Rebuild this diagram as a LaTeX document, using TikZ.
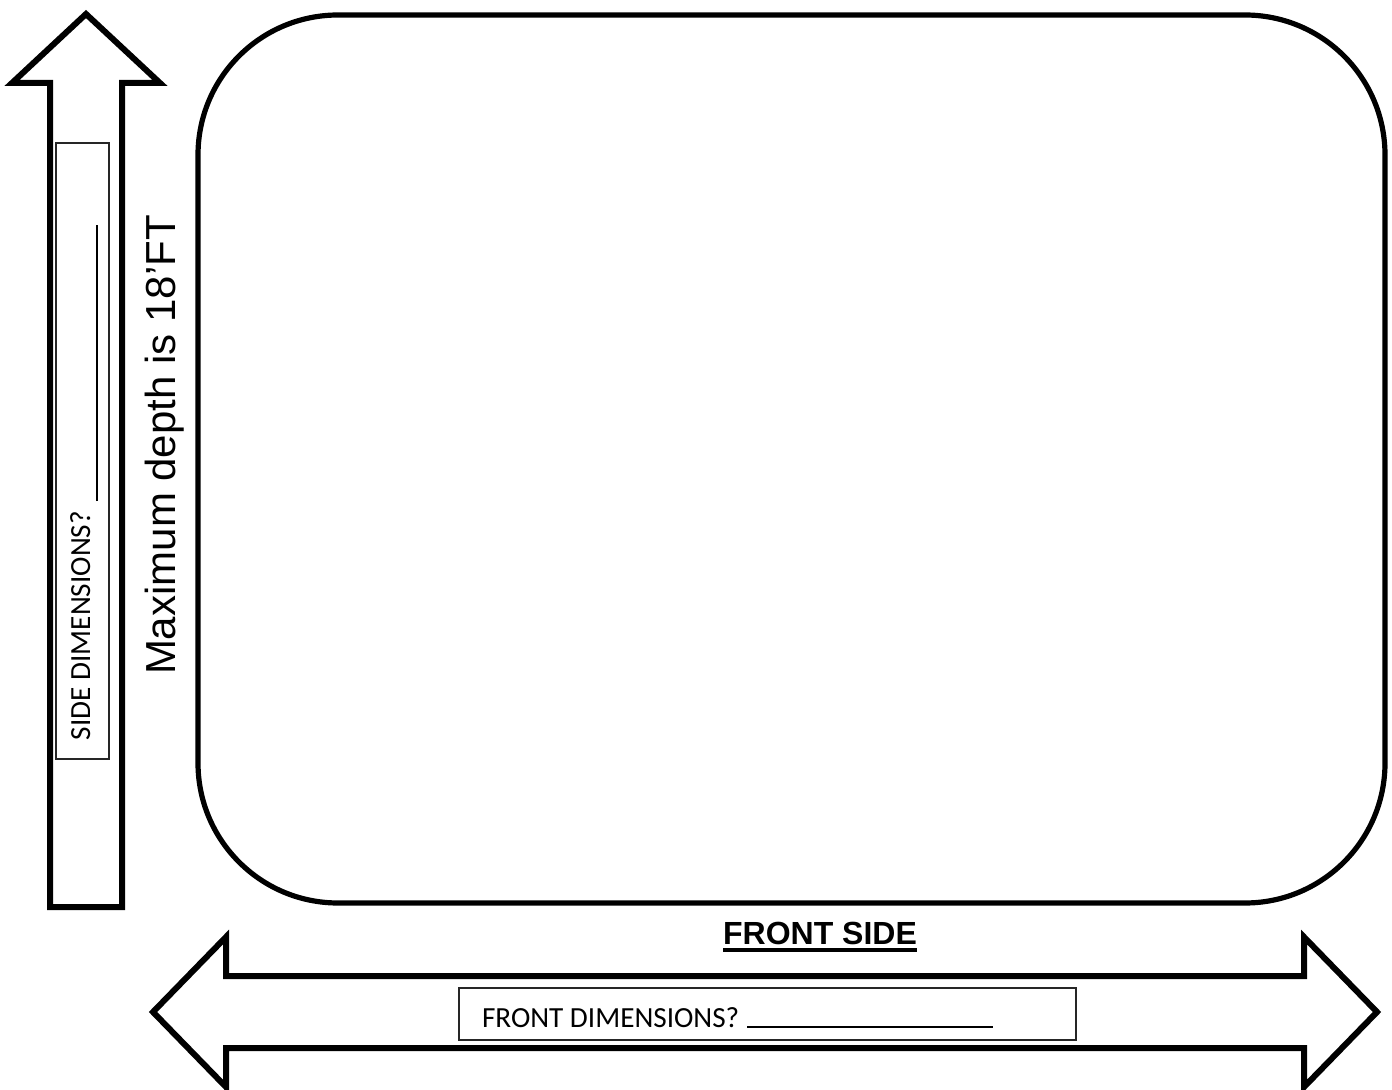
\documentclass[tikz,border=0pt]{standalone}
\usepackage{fontspec}
\setmainfont{Liberation Sans}
\newfontfamily\calibrifont{Carlito}
\begin{document}
\begin{tikzpicture}[x=0.5pt,y=-0.5pt,
    bigarrow/.style={draw=black, line width=3pt, fill=white},
    thinbox/.style={draw=black!85, line width=0.8pt},
    lbl/.style={inner sep=0pt, outer sep=0pt},
    dimfont/.style={font={\calibrifont\fontsize{14.6}{17}\selectfont}}]
        \useasboundingbox (0,0) rectangle (1392,1090);
        % plan outline
        \draw[line width=2.6pt, rounded corners=70pt] (198,15) rectangle (1385,903);
        % side arrow
        \draw[bigarrow] (50,907) -- (50,83) -- (12,83) -- (86,14) -- (160,83) -- (122,83) -- (122,907) -- cycle;
        \draw[thinbox] (56,143) rectangle (109,759);
        \node[lbl, dimfont, rotate=90, anchor=base west] (sidedim) at (90,740) {SIDE DIMENSIONS?};
        \coordinate (sideend) at (90,225);
        \draw[line width=0.6pt] ([xshift=3.5pt,yshift=5pt]sidedim.base east) -- ([xshift=3.5pt]sideend);
        \node[lbl, rotate=90, anchor=base west, font=\fontsize{21}{25}\selectfont] (depth) at (175,675) {Maximum depth is 18’FT};
        % front arrow
        \draw[bigarrow] (153,1012) -- (226,937) -- (226,976) -- (1304,976) -- (1304,937) -- (1377,1012) -- (1304,1087) -- (1304,1048) -- (226,1048) -- (226,1087) -- cycle;
        \node[lbl, anchor=base, font=\bfseries\fontsize{16}{19}\selectfont] (front) at (820,944) {FRONT SIDE};
        \draw[line width=1.6pt] ([yshift=-3pt]front.base west) -- ([yshift=-3pt]front.base east);
        \draw[thinbox] (459,988) rectangle (1076,1040);
        \node[lbl, dimfont, anchor=base west] (frontdim) at (482,1027) {FRONT DIMENSIONS?};
        \coordinate (frontend) at (993,1027);
        \draw[line width=0.6pt] ([xshift=4pt]frontdim.base east) -- (frontend);
    \end{tikzpicture}
\end{document}
